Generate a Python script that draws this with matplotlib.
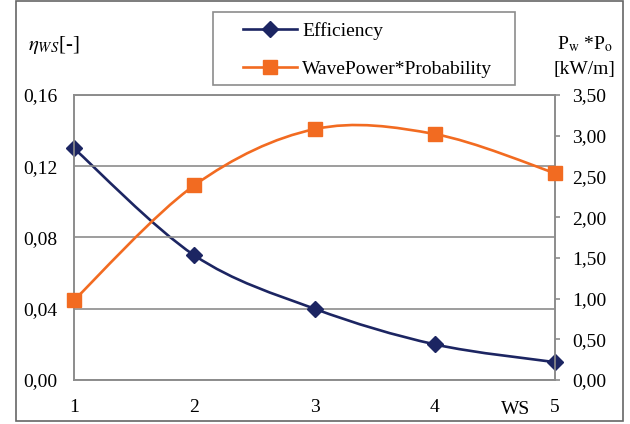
import numpy as np
import matplotlib.pyplot as plt
from matplotlib.path import Path
from matplotlib.patches import PathPatch, Rectangle
from matplotlib.lines import Line2D
from matplotlib.ticker import FuncFormatter, MultipleLocator

plt.rcParams['font.family'] = 'Liberation Serif'
plt.rcParams['mathtext.fontset'] = 'stix'

# data
ws = [1, 2, 3, 4, 5]
efficiency = [0.13, 0.07, 0.04, 0.02, 0.01]
wave_power_prob = [0.98, 2.39, 3.08, 3.02, 2.54]

navy = '#1c2562'
orange = '#f26b21'
grey = '#8c8c8c'


def smooth_path(x, y):
    # excel style smoothed line: catmull-rom as cubic bezier
    pts = np.column_stack([x, y]).astype(float)
    ext = np.vstack([pts[0], pts, pts[-1]])
    verts = [pts[0]]
    codes = [Path.MOVETO]
    for i in range(1, len(ext) - 2):
        p0, p1, p2, p3 = ext[i - 1], ext[i], ext[i + 1], ext[i + 2]
        verts += [p1 + (p2 - p0) / 6, p2 - (p3 - p1) / 6, p2]
        codes += [Path.CURVE4] * 3
    return Path(verts, codes)


fig = plt.figure(figsize=(6.3, 4.24), dpi=100)
ax = fig.add_axes([0.1175, 0.1038, 0.7635, 0.6722])
ax2 = ax.twinx()

ax.add_patch(PathPatch(smooth_path(ws, efficiency), fill=False, ec=navy, lw=1.9))
ax.plot(ws, efficiency, ls='none', marker='D', ms=8, color=navy, clip_on=False, zorder=5)

ax2.add_patch(PathPatch(smooth_path(ws, wave_power_prob), fill=False, ec=orange, lw=1.9))
ax2.plot(ws, wave_power_prob, ls='none', marker='s', ms=10, color=orange, clip_on=False, zorder=5)

ax.set_xlim(1, 5)
ax.set_ylim(0, 0.16)
ax2.set_ylim(0, 3.5)
ax.yaxis.set_major_locator(MultipleLocator(0.04))
ax2.yaxis.set_major_locator(MultipleLocator(0.5))
ax.set_xticks(ws)
ax.yaxis.set_major_formatter(FuncFormatter(lambda v, p: f'{v:.2f}'.replace('.', ',')))
ax2.yaxis.set_major_formatter(FuncFormatter(lambda v, p: f'{v:.2f}'.replace('.', ',')))

ax.grid(axis='y', color=grey, lw=1.2)
for a in (ax, ax2):
    for s in a.spines.values():
        s.set_color(grey)
        s.set_linewidth(1.2)
ax.tick_params(axis='y', length=0, pad=12, labelsize=14)
ax.tick_params(axis='x', length=0, pad=14, labelsize=14)
ax2.tick_params(axis='y', length=3.5, width=1.2, color=grey, pad=9, labelsize=14)

fig.text(0.045, 0.895, r'$\eta_{WS}$[-]', fontsize=15, ha='left', va='center')
fig.text(0.928, 0.897, r'P$_\mathrm{w}$ *P$_\mathrm{o}$', fontsize=14, ha='center', va='center')
fig.text(0.928, 0.835, '[kW/m]', fontsize=14, ha='center', va='center')
fig.text(0.818, 0.035, 'WS', fontsize=14, ha='center', va='center')

handles = [Line2D([], [], color=navy, lw=1.9, marker='D', ms=8),
           Line2D([], [], color=orange, lw=1.9, marker='s', ms=10)]
leg = fig.legend(handles, ['Efficiency', 'WavePower*Probability'],
                 loc='upper left', bbox_to_anchor=(243 / 630, 1 - 22 / 424), fontsize=14,
                 frameon=False, borderpad=0, labelspacing=1.05,
                 handlelength=2.8, handletextpad=0.25, borderaxespad=0)
# legend frame as in the source
fig.patches.append(Rectangle((213 / 630, 1 - 85 / 424), 302 / 630, 73 / 424,
                             transform=fig.transFigure, fill=False, ec=grey, lw=1.2))

fig.patches.append(Rectangle((16 / 630, 3 / 424), 607 / 630, 420 / 424,
                             transform=fig.transFigure, fill=False, ec='#666666', lw=1.2))

fig.savefig('out.png', dpi=100)
